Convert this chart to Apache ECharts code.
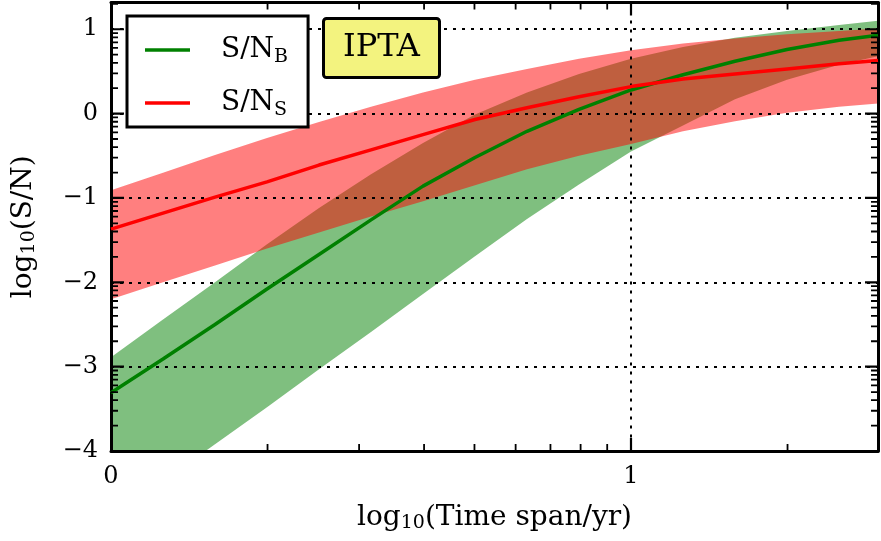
<!DOCTYPE html>
<html>
<head>
<meta charset="utf-8">
<script src="https://cdn.jsdelivr.net/npm/echarts@6/dist/echarts.min.js"></script>
<style>
  html, body { margin: 0; padding: 0; background: #fff; }
  #main { width: 881px; height: 541px; }
</style>
</head>
<body>
<div id="main"></div>
<script>
// x: log10(time span / yr), y: log10(S/N)
const xs = [0, 0.1, 0.2, 0.3, 0.4, 0.5, 0.6, 0.7, 0.8, 0.9, 1.0, 1.1, 1.2, 1.3, 1.4, 1.475]
const snB = [-3.31, -2.91, -2.50, -2.08, -1.67, -1.26, -0.86, -0.52, -0.21, 0.05, 0.28, 0.46, 0.62, 0.76, 0.87, 0.93]
const snBLow = [-4.80, -4.36, -3.92, -3.48, -3.03, -2.59, -2.14, -1.69, -1.25, -0.84, -0.45, -0.14, 0.17, 0.40, 0.58, 0.68]
const snBHigh = [-2.89, -2.44, -2.00, -1.55, -1.12, -0.72, -0.35, -0.01, 0.25, 0.47, 0.65, 0.79, 0.90, 0.98, 1.05, 1.10]
const snS = [-1.37, -1.18, -0.99, -0.81, -0.61, -0.43, -0.25, -0.07, 0.07, 0.20, 0.32, 0.41, 0.47, 0.53, 0.59, 0.63]
const snSLow = [-2.20, -2.00, -1.80, -1.60, -1.41, -1.22, -1.04, -0.85, -0.66, -0.50, -0.36, -0.21, -0.09, 0.01, 0.08, 0.12]
const snSHigh = [-0.91, -0.70, -0.49, -0.29, -0.10, 0.08, 0.25, 0.40, 0.53, 0.65, 0.75, 0.83, 0.89, 0.94, 0.98, 1.01]

const xMin = 0, xMax = 1.475
const yMin = -4, yMax = 1.317
const xDecades = [0, 1]
const yDecades = [-4, -3, -2, -1, 0, 1]
const minorFactors = [2, 3, 4, 5, 6, 7, 8, 9]

const font = 'DejaVu Serif'
const xMinor = xDecades.flatMap(d => minorFactors.map(m => d + Math.log10(m))).filter(v => v < xMax)
const yMinor = yDecades.flatMap(d => minorFactors.map(m => d + Math.log10(m))).filter(v => v < yMax)

const pairs = arr => xs.map((x, i) => [x, arr[i]])

// one filled polygon between lower and upper edge
const bandSeries = (lo, hi, color) => ({
  type: 'custom',
  z: 2,
  clip: true,
  silent: true,
  data: xs.map((x, i) => [x, lo[i], hi[i]]),
  encode: { x: 0, y: [1, 2] },
  renderItem: (params, api) => {
    if (params.dataIndex !== 0) return null
    const pts = []
    xs.forEach((x, i) => pts.push(api.coord([x, lo[i]])))
    for (let i = xs.length - 1; i >= 0; i--) pts.push(api.coord([xs[i], hi[i]]))
    return { type: 'polygon', shape: { points: pts }, style: { fill: color } }
  }
})

// inward ticks on all four spines: [value, side, length, width]
// side 0 bottom, 1 top, 2 left, 3 right
const majorLen = 13, minorLen = 7
const tickData = []
xDecades.forEach(v => { tickData.push([v, 0, majorLen, 2.2]); tickData.push([v, 1, majorLen, 2.2]) })
xMinor.forEach(v => { tickData.push([v, 0, minorLen, 1.8]); tickData.push([v, 1, minorLen, 1.8]) })
yDecades.forEach(v => { tickData.push([v, 2, majorLen, 2.2]); tickData.push([v, 3, majorLen, 2.2]) })
yMinor.forEach(v => { tickData.push([v, 2, minorLen, 1.8]); tickData.push([v, 3, minorLen, 1.8]) })

const tickSeries = {
  type: 'custom',
  z: 5,
  clip: true,
  silent: true,
  data: tickData,
  renderItem: (params, api) => {
    const v = api.value(0), side = api.value(1), len = api.value(2), w = api.value(3)
    let pts
    if (side === 0 || side === 1) {
      const p = api.coord([v, side === 0 ? yMin : yMax])
      const dir = side === 0 ? -1 : 1
      pts = [[p[0] - w / 2, p[1]], [p[0] + w / 2, p[1]], [p[0] + w / 2, p[1] + dir * len], [p[0] - w / 2, p[1] + dir * len]]
    } else {
      const p = api.coord([side === 2 ? xMin : xMax, v])
      const dir = side === 2 ? 1 : -1
      pts = [[p[0], p[1] - w / 2], [p[0], p[1] + w / 2], [p[0] + dir * len, p[1] + w / 2], [p[0] + dir * len, p[1] - w / 2]]
    }
    return { type: 'polygon', shape: { points: pts }, style: { fill: '#000' } }
  }
}

const dotted = { color: '#000', width: 2, type: [3, 6] }
const spine = { show: true, onZero: false, lineStyle: { color: '#000', width: 3 } }
const intLabel = v => Number.isInteger(v) ? String(v).replace('-', '\u2212') : ''
const nameRich = {
  a: { fontFamily: font, fontSize: 28, lineHeight: 30, color: '#000' },
  s: { fontFamily: font, fontSize: 19, lineHeight: 12, verticalAlign: 'bottom', color: '#000' }
}

const chart = echarts.init(document.getElementById('main'))
chart.setOption({
  animation: false,
  backgroundColor: '#fff',
  grid: { left: 111, right: -2, top: 2.5, bottom: 90 },
  title: {
    text: 'IPTA',
    left: 323,
    top: 18,
    padding: [12, 20, 12, 20],
    backgroundColor: '#f3f37f',
    borderColor: '#000',
    borderWidth: 3,
    borderRadius: 3,
    z: 6,
    textStyle: { fontFamily: font, fontSize: 32, fontWeight: 'normal', color: '#000', lineHeight: 36 }
  },
  legend: {
    data: ['S/N_B', 'S/N_S'],
    orient: 'vertical',
    left: 127,
    top: 16,
    padding: [20, 20, 7, 18],
    itemGap: 22,
    itemWidth: 45,
    itemHeight: 3.5,
    icon: 'rect',
    backgroundColor: '#fff',
    borderColor: '#000',
    borderWidth: 3,
    z: 6,
    formatter: n => n === 'S/N_B' ? '{a|S/N}{b|B}' : '{a|S/N}{b|S}',
    textStyle: {
      rich: {
        a: { fontFamily: font, fontSize: 28, lineHeight: 34, padding: [0, 0, 0, 26], color: '#000' },
        b: { fontFamily: font, fontSize: 19, lineHeight: 14, verticalAlign: 'bottom', color: '#000' }
      }
    }
  },
  xAxis: [
    {
      type: 'value', position: 'bottom', min: xMin, max: xMax, interval: 1, z: 3,
      name: '{a|log}{s|10}{a|(Time span/yr)}',
      nameLocation: 'middle', nameGap: 52,
      nameTextStyle: { rich: nameRich },
      axisLine: spine, axisTick: { show: false },
      axisLabel: { formatter: intLabel, fontFamily: font, fontSize: 24, color: '#000', margin: 14 },
      splitLine: { show: true, lineStyle: dotted }
    },
    {
      type: 'value', position: 'top', min: xMin, max: xMax, interval: 1, z: 3,
      axisLine: spine, axisTick: { show: false }, axisLabel: { show: false }, splitLine: { show: false }
    }
  ],
  yAxis: [
    {
      type: 'value', position: 'left', min: yMin, max: yMax, interval: 1, z: 3,
      name: '{a|log}{s|10}{a|(S/N)}',
      nameLocation: 'middle', nameGap: 72,
      nameTextStyle: { rich: nameRich },
      axisLine: spine, axisTick: { show: false },
      axisLabel: { formatter: intLabel, fontFamily: font, fontSize: 24, color: '#000', margin: 13 },
      splitLine: { show: true, lineStyle: dotted }
    },
    {
      type: 'value', position: 'right', min: yMin, max: yMax, interval: 1, z: 3,
      axisLine: spine, axisTick: { show: false }, axisLabel: { show: false }, splitLine: { show: false }
    }
  ],
  series: [
    bandSeries(snBLow, snBHigh, 'rgba(0,128,0,0.5)'),
    bandSeries(snSLow, snSHigh, 'rgba(255,0,0,0.5)'),
    {
      name: 'S/N_B', type: 'line', z: 4, data: pairs(snB), symbol: 'none',
      itemStyle: { color: '#008000' }, lineStyle: { color: '#008000', width: 3.5 }
    },
    {
      name: 'S/N_S', type: 'line', z: 4, data: pairs(snS), symbol: 'none',
      itemStyle: { color: '#ff0000' }, lineStyle: { color: '#ff0000', width: 3.5 }
    },
    tickSeries
  ]
})
</script>
</body>
</html>
